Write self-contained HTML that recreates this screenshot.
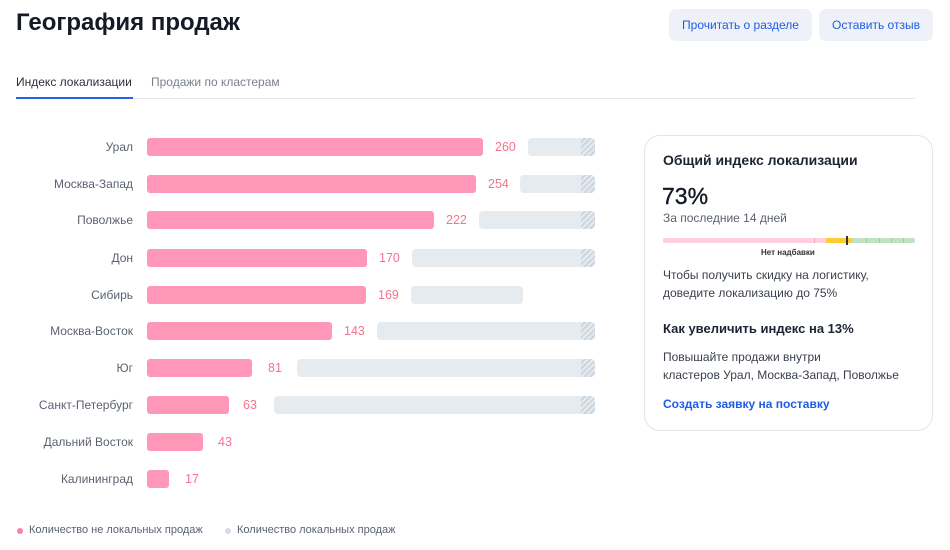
<!DOCTYPE html>
<html><head><meta charset="utf-8"><style>
*{margin:0;padding:0;box-sizing:border-box}
body{width:950px;height:550px;background:#fff;font-family:"Liberation Sans","Noto Sans CJK SC",sans-serif;position:relative;overflow:hidden;color:#1c2433}
.a{position:absolute;white-space:nowrap}
.lbl{position:absolute;right:817px;font-size:12px;color:#5a6270;line-height:18px}
.pk{position:absolute;left:147px;height:18px;background:#ff97b9;border-radius:3px}
.val{position:absolute;font-size:12.5px;color:#f5728f;line-height:18px}
.gr{position:absolute;height:18px;background:#e6ebf0;border-radius:4px;overflow:hidden}
.gr.h::after{content:"";position:absolute;right:0;top:0;width:14px;height:18px;background:repeating-linear-gradient(135deg,#e6ebf0 0 2px,#cdd6e0 2px 4px)}
.btn{position:absolute;top:9px;height:32px;background:#eef2f8;border-radius:7px;color:#1f5ce6;font-size:12px;line-height:32px;text-align:center}
</style></head><body>
<div class="a" style="left:16px;top:9px;font-size:24px;font-weight:bold;color:#141b26">География продаж</div>
<div class="btn" style="left:669px;width:143px">Прочитать о разделе</div>
<div class="btn" style="left:819px;width:114px">Оставить отзыв</div>
<div class="a" style="left:16px;top:75px;font-size:12px;color:#2a313c">Индекс локализации</div>
<div class="a" style="left:151px;top:75px;font-size:12px;color:#7a818c">Продажи по кластерам</div>
<div class="a" style="left:16px;top:98px;width:899px;height:1px;background:#e3e8ef"></div>
<div class="a" style="left:16px;top:97px;width:117px;height:2px;background:#2563eb"></div>

<div class="lbl" style="top:138px">Урал</div><div class="pk" style="top:138px;width:336px"></div><div class="val" style="top:138px;left:495px">260</div><div class="gr h" style="top:138px;left:528px;width:67px"></div>
<div class="lbl" style="top:175px">Москва-Запад</div><div class="pk" style="top:175px;width:329px"></div><div class="val" style="top:175px;left:488px">254</div><div class="gr h" style="top:175px;left:520px;width:75px"></div>
<div class="lbl" style="top:211px">Поволжье</div><div class="pk" style="top:211px;width:287px"></div><div class="val" style="top:211px;left:446px">222</div><div class="gr h" style="top:211px;left:479px;width:116px"></div>
<div class="lbl" style="top:249px">Дон</div><div class="pk" style="top:249px;width:220px"></div><div class="val" style="top:249px;left:379px">170</div><div class="gr h" style="top:249px;left:412px;width:183px"></div>
<div class="lbl" style="top:286px">Сибирь</div><div class="pk" style="top:286px;width:219px"></div><div class="val" style="top:286px;left:378px">169</div><div class="gr" style="top:286px;left:411px;width:112px"></div>
<div class="lbl" style="top:322px">Москва-Восток</div><div class="pk" style="top:322px;width:185px"></div><div class="val" style="top:322px;left:344px">143</div><div class="gr h" style="top:322px;left:377px;width:218px"></div>
<div class="lbl" style="top:359px">Юг</div><div class="pk" style="top:359px;width:105px"></div><div class="val" style="top:359px;left:268px">81</div><div class="gr h" style="top:359px;left:297px;width:298px"></div>
<div class="lbl" style="top:396px">Санкт-Петербург</div><div class="pk" style="top:396px;width:82px"></div><div class="val" style="top:396px;left:243px">63</div><div class="gr h" style="top:396px;left:274px;width:321px"></div>
<div class="lbl" style="top:433px">Дальний Восток</div><div class="pk" style="top:433px;width:56px"></div><div class="val" style="top:433px;left:218px">43</div>
<div class="lbl" style="top:470px">Калининград</div><div class="pk" style="top:470px;width:22px"></div><div class="val" style="top:470px;left:185px">17</div>

<div class="a" style="left:17px;top:528px;width:6px;height:6px;border-radius:3px;background:#ff7fa6"></div>
<div class="a" style="left:29px;top:524px;font-size:11px;color:#5a6270">Количество не локальных продаж</div>
<div class="a" style="left:225px;top:528px;width:6px;height:6px;border-radius:3px;background:#d5dce5"></div>
<div class="a" style="left:237px;top:524px;font-size:11px;color:#5a6270">Количество локальных продаж</div>

<div class="a" style="left:644px;top:135px;width:289px;height:296px;border:1px solid #e1e6ed;border-radius:16px"></div>
<div class="a" style="left:663px;top:152px;font-size:14px;font-weight:bold;color:#1c2433">Общий индекс локализации</div>
<div class="a" style="left:662px;top:183px;font-size:23px;color:#141b26;-webkit-text-stroke:0.4px #141b26">73%</div>
<div class="a" style="left:663px;top:211px;font-size:12px;color:#5a6270">За последние 14 дней</div>
<div class="a" style="left:663px;top:238px;width:163px;height:5px;background:#ffd0dc;border-radius:2px 0 0 2px"></div>
<div class="a" style="left:814px;top:238px;width:1px;height:5px;background:#f5a3b6"></div>
<div class="a" style="left:826px;top:238px;width:26px;height:5px;background:#ffcc33"></div>
<div class="a" style="left:852px;top:238px;width:63px;height:5px;background:#bfe3c3;border-radius:0 2px 2px 0"></div>
<div class="a" style="left:846px;top:236px;width:2px;height:9px;background:#333"></div>
<div class="a" style="left:866px;top:238px;width:1px;height:5px;background:#9fd1a5"></div>
<div class="a" style="left:879px;top:238px;width:1px;height:5px;background:#9fd1a5"></div>
<div class="a" style="left:891px;top:238px;width:1px;height:5px;background:#9fd1a5"></div>
<div class="a" style="left:903px;top:238px;width:1px;height:5px;background:#9fd1a5"></div>
<div class="a" style="left:761px;top:248px;font-size:8px;font-weight:bold;color:#333">Нет надбавки</div>
<div class="a" style="left:663px;top:266px;font-size:12px;line-height:18px;color:#3a414c">Чтобы получить скидку на логистику,<br>доведите локализацию до 75%</div>
<div class="a" style="left:663px;top:321px;font-size:13px;font-weight:bold;color:#1c2433">Как увеличить индекс на 13%</div>
<div class="a" style="left:663px;top:348px;font-size:12px;line-height:18px;color:#3a414c">Повышайте продажи внутри<br>кластеров Урал, Москва-Запад, Поволжье</div>
<div class="a" style="left:663px;top:397px;font-size:12px;font-weight:bold;color:#1f5ce6">Создать заявку на поставку</div>
</body></html>
